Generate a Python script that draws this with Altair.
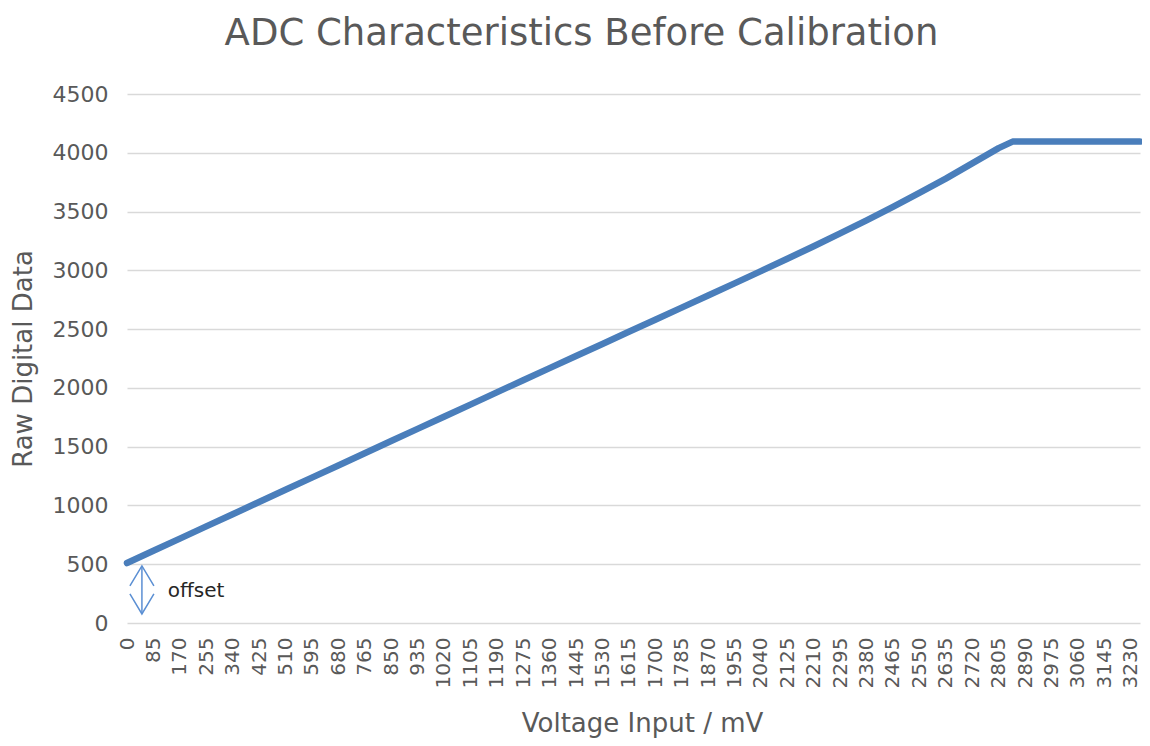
import altair as alt
import pandas as pd

# ---- data ----
voltage_mv = [0, 85, 170, 255, 340, 425, 510, 595, 680, 765, 850, 935, 1020, 1105,
              1190, 1275, 1360, 1445, 1530, 1615, 1700, 1785, 1870, 1955, 2040, 2125,
              2210, 2295, 2380, 2465, 2550, 2635, 2720, 2805, 2850, 2890, 2975, 3060,
              3145, 3230, 3260]
raw_data = [510, 614, 718, 822, 925, 1029, 1133, 1237, 1340, 1444, 1548, 1651, 1755,
            1858, 1962, 2065, 2168, 2271, 2374, 2477, 2580, 2683, 2786, 2889, 2993,
            3098, 3205, 3314, 3425, 3540, 3658, 3780, 3910, 4040, 4095, 4095, 4095,
            4095, 4095, 4095, 4095]

x_ticks = list(range(0, 3231, 85))
y_ticks = [0, 500, 1000, 1500, 2000, 2500, 3000, 3500, 4000, 4500]

# offset annotation (double arrow + label)
arrow_x = [48, 48]
arrow_y = [485, 77]
arrow_tip_top = [485]
arrow_tip_bottom = [77]
label_x = [131]
label_y = [270]
label_text = ["offset"]

FONT = "DejaVu Sans"
GREY = "#595959"
BLUE = "#4a7ebb"
ARROW = "#5b8fd3"

df = pd.DataFrame({"mv": voltage_mv, "raw": raw_data})
arrow_df = pd.DataFrame({"mv": arrow_x, "raw": arrow_y})
tip_top_df = pd.DataFrame({"mv": [arrow_x[0]], "raw": arrow_tip_top})
tip_bot_df = pd.DataFrame({"mv": [arrow_x[0]], "raw": arrow_tip_bottom})
label_df = pd.DataFrame({"mv": label_x, "raw": label_y, "t": label_text})

x_scale = alt.Scale(domain=[0, 3260], nice=False, zero=False)
y_scale = alt.Scale(domain=[0, 4500], nice=False)

x_enc = alt.X(
    "mv:Q", scale=x_scale,
    axis=alt.Axis(
        title="Voltage Input / mV", values=x_ticks, tickCount=100, format="d",
        labelAngle=270,
        labelFontSize=20, labelFont=FONT, labelColor=GREY, labelPadding=14,
        labelFlush=False, labelOverlap=False, labelBound=False, labelSeparation=0,
        grid=False, ticks=False, domain=False,
        titleFont=FONT, titleFontSize=26, titleColor=GREY, titleFontWeight="normal",
        titleX=515, titleY=108, titleAlign="center", titleBaseline="alphabetic",
    ),
)
y_enc = alt.Y(
    "raw:Q", scale=y_scale,
    axis=alt.Axis(
        title="Raw Digital Data", values=y_ticks, tickCount=20, format="d",
        labelFontSize=22, labelFont=FONT, labelColor=GREY, labelPadding=19,
        grid=True, gridColor="#d9d9d9", gridWidth=1.3, ticks=False, domain=False,
        titleFont=FONT, titleFontSize=26, titleColor=GREY, titleFontWeight="normal",
        titlePadding=16,
    ),
)

line = alt.Chart(df).mark_line(color=BLUE, strokeWidth=6.5, strokeCap="round",
                               strokeJoin="round").encode(x=x_enc, y=y_enc)

shaft = alt.Chart(arrow_df).mark_line(color=ARROW, strokeWidth=1.5).encode(
    x="mv:Q", y="raw:Q")
tip_top = alt.Chart(tip_top_df).mark_point(
    shape="M-0.6,1L0,0L0.6,1", filled=False, size=1600, color=ARROW,
    strokeWidth=1.5, opacity=1).encode(x="mv:Q", y="raw:Q")
tip_bot = alt.Chart(tip_bot_df).mark_point(
    shape="M-0.6,-1L0,0L0.6,-1", filled=False, size=1600, color=ARROW,
    strokeWidth=1.5, opacity=1).encode(x="mv:Q", y="raw:Q")
label = alt.Chart(label_df).mark_text(
    align="left", baseline="middle", font=FONT, fontSize=20, color="#262626").encode(
    x="mv:Q", y="raw:Q", text="t:N")

chart = alt.layer(line, shaft, tip_top, tip_bot, label).properties(
    width=1013, height=529,
    title=alt.TitleParams(
        "ADC Characteristics Before Calibration", font=FONT, fontSize=37,
        color=GREY, fontWeight="normal", anchor="middle", dx=-52, offset=30,
    ),
    autosize=alt.AutoSizeParams(type="none"),
    padding={"left": 119, "top": 86, "right": 2, "bottom": 115},
).configure(
    background="white",
    view=alt.ViewConfig(strokeWidth=0, stroke="transparent"),
    axisX=alt.AxisConfig(labelOverlap=False),
)

chart.save("out.html", embed_options={"renderer": "svg", "actions": False})
